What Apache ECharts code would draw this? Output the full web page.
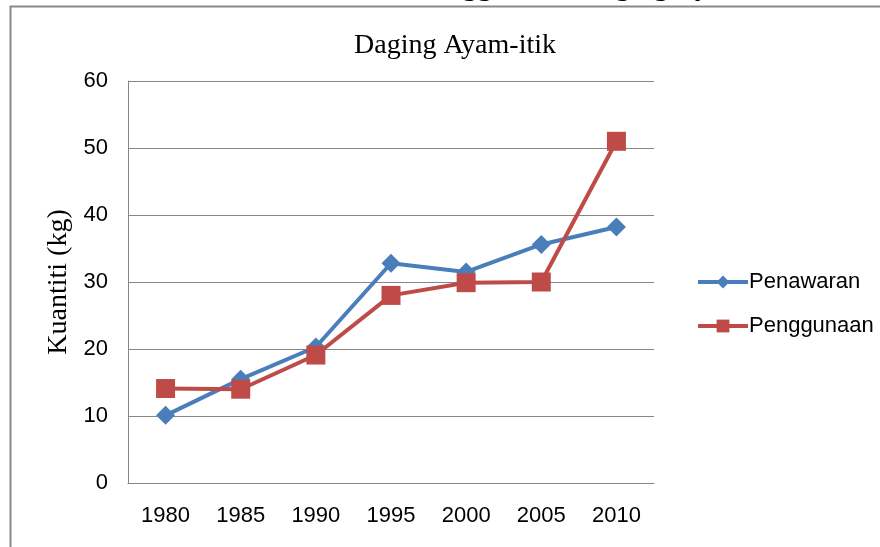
<!DOCTYPE html>
<html>
<head>
<meta charset="utf-8">
<script src="https://cdn.jsdelivr.net/npm/echarts@6/dist/echarts.min.js"></script>
<style>
  html, body { margin: 0; padding: 0; background: #fff; }
  #chart { width: 880px; height: 547px; }
</style>
</head>
<body>
<div id="chart"></div>
<script>
var years = ['1980', '1985', '1990', '1995', '2000', '2005', '2010'];
var penawaran = [10.1, 15.5, 20.3, 32.8, 31.5, 35.6, 38.2];
var penggunaan = [14.1, 14.0, 19.1, 28.0, 29.9, 30.0, 51.0];
var yTicks = { min: 0, max: 60, interval: 10 };

var chart = echarts.init(document.getElementById('chart'));

var option = {
  animation: false,
  title: {
    text: 'Daging Ayam-itik',
    left: 450,
    textAlign: 'center',
    top: 27,
    textStyle: { fontFamily: 'Liberation Serif', fontSize: 28, fontWeight: 'normal', color: '#000' }
  },
  legend: {
    orient: 'vertical',
    left: 691,
    top: 266,
    itemWidth: 50,
    itemHeight: 16,
    itemGap: 22,
    lineStyle: { width: 4 },
    textStyle: { fontFamily: 'Liberation Sans', fontSize: 22, color: '#000', padding: [0, 0, 0, -4] },
    data: ['Penawaran', 'Penggunaan']
  },
  grid: { left: 128, right: 226, top: 81, bottom: 64 },
  xAxis: {
    type: 'category',
    data: years,
    axisLine: { lineStyle: { color: '#868686', width: 1 } },
    axisTick: { show: false },
    axisLabel: { fontFamily: 'Liberation Sans', fontSize: 22, color: '#000', margin: 22 }
  },
  yAxis: {
    type: 'value',
    min: yTicks.min,
    max: yTicks.max,
    interval: yTicks.interval,
    name: 'Kuantiti (kg)',
    nameLocation: 'middle',
    nameGap: 52,
    nameTextStyle: { fontFamily: 'Liberation Serif', fontSize: 28, color: '#000' },
    axisLine: { show: true, lineStyle: { color: '#868686', width: 1 } },
    axisTick: { show: false },
    splitLine: { lineStyle: { color: '#868686', width: 1 } },
    axisLabel: { fontFamily: 'Liberation Sans', fontSize: 22, color: '#000', margin: 20 }
  },
  series: [
    {
      name: 'Penawaran',
      type: 'line',
      data: penawaran,
      symbol: 'diamond',
      symbolSize: 19,
      lineStyle: { color: '#4A7EBB', width: 4 },
      itemStyle: { color: '#4A7EBB' }
    },
    {
      name: 'Penggunaan',
      type: 'line',
      data: penggunaan,
      symbol: 'rect',
      symbolSize: 19,
      lineStyle: { color: '#BE4B48', width: 4 },
      itemStyle: { color: '#BE4B48' }
    }
  ],
  graphic: [
    {
      type: 'text', left: 417, top: -28, z: 1,
      style: { text: 'Penggunaan', font: '30px "Liberation Serif"', fill: '#000' }
    },
    {
      type: 'text', left: 580, top: -28, z: 1,
      style: { text: 'Daging Ayam', font: '30px "Liberation Serif"', fill: '#000' }
    },
    {
      type: 'rect', left: 8, top: 4, z: 10,
      shape: { width: 900, height: 600 },
      style: { fill: 'none', stroke: '#8a8a8a', lineWidth: 2 }
    }
  ]
};

chart.setOption(option);

window.addEventListener('resize', function() {
  chart.resize();
});
</script>
</body>
</html>
